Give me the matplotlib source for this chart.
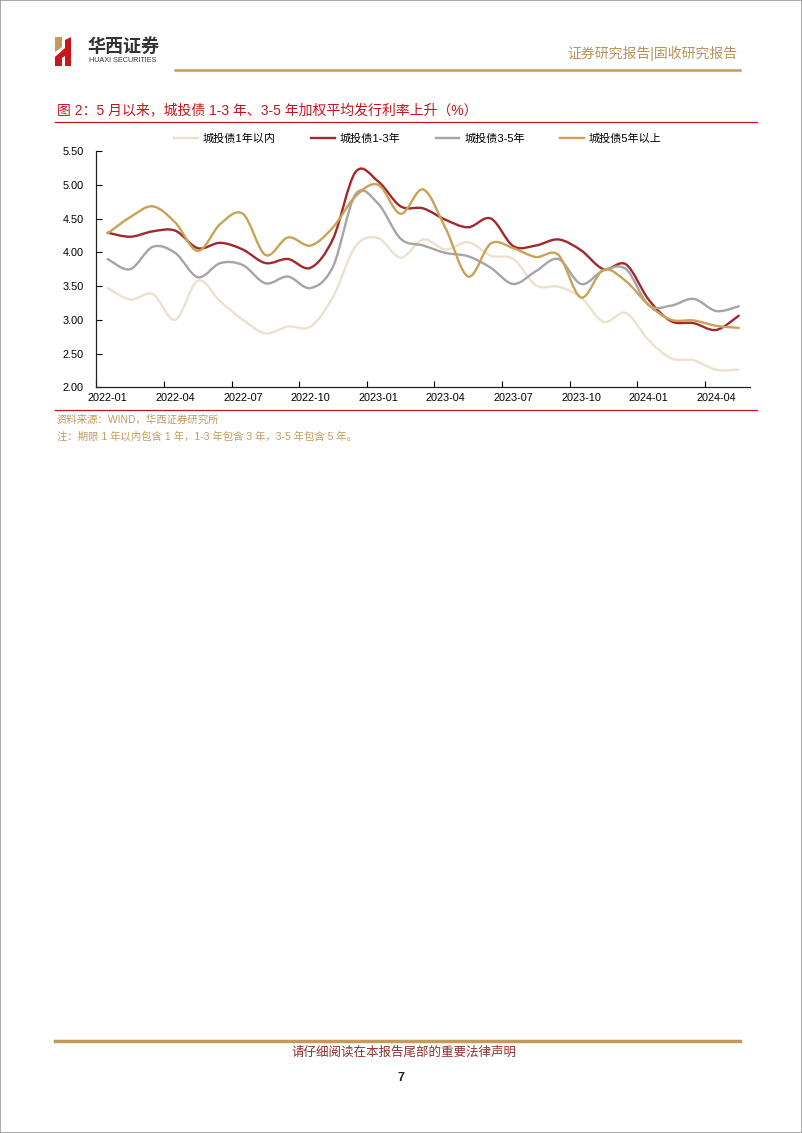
import matplotlib
matplotlib.use("Agg")
import matplotlib.pyplot as plt
from matplotlib.path import Path
from matplotlib.patches import PathPatch, Polygon, Rectangle
from matplotlib.lines import Line2D
import numpy as np

plt.rcParams['font.family'] = ['Liberation Sans', 'Noto Sans CJK SC']

# data (monthly, 2022-01 .. 2024-05)
months = ['2022-01', '2022-02', '2022-03', '2022-04', '2022-05', '2022-06',
          '2022-07', '2022-08', '2022-09', '2022-10', '2022-11', '2022-12',
          '2023-01', '2023-02', '2023-03', '2023-04', '2023-05', '2023-06',
          '2023-07', '2023-08', '2023-09', '2023-10', '2023-11', '2023-12',
          '2024-01', '2024-02', '2024-03', '2024-04', '2024-05']
rate_1y = [3.47, 3.30, 3.38, 3.00, 3.58, 3.27, 3.00, 2.80, 2.90, 2.90, 3.34, 4.09,
           4.21, 3.92, 4.19, 4.04, 4.15, 3.95, 3.90, 3.51, 3.49, 3.33, 2.97, 3.10,
           2.70, 2.43, 2.40, 2.26, 2.26]
rate_1_3y = [4.29, 4.23, 4.31, 4.32, 4.06, 4.14, 4.04, 3.84, 3.90, 3.77, 4.20, 5.19,
             5.05, 4.68, 4.65, 4.48, 4.37, 4.50, 4.09, 4.10, 4.19, 4.03, 3.75, 3.82,
             3.30, 2.98, 2.95, 2.85, 3.06]
rate_3_5y = [3.90, 3.75, 4.08, 3.99, 3.63, 3.84, 3.81, 3.54, 3.64, 3.47, 3.79, 4.86,
             4.72, 4.20, 4.10, 3.99, 3.94, 3.77, 3.53, 3.72, 3.90, 3.53, 3.73, 3.75,
             3.22, 3.21, 3.31, 3.13, 3.20]
rate_5y = [4.28, 4.52, 4.68, 4.44, 4.02, 4.42, 4.57, 3.96, 4.22, 4.10, 4.37, 4.83,
           5.00, 4.57, 4.93, 4.35, 3.64, 4.13, 4.06, 3.93, 3.96, 3.33, 3.74, 3.57,
           3.22, 3.00, 2.99, 2.91, 2.88]
series_names = ['城投债1年以内', '城投债1-3年', '城投债3-5年', '城投债5年以上']
series_colors = ['#EDE1CC', '#A2282B', '#A5A5A5', '#C9A258']
yticks = [2.00, 2.50, 3.00, 3.50, 4.00, 4.50, 5.00, 5.50]

W, H = 802, 1133


def fx(x):
    return x / W


def fy(y):
    return 1 - y / H


def smooth_path(vals):
    # smoothed line through the points (cubic bezier, catmull-rom style)
    pts = np.column_stack([np.arange(len(vals)), vals])
    verts = [pts[0]]
    codes = [Path.MOVETO]
    n = len(pts)
    for i in range(n - 1):
        p0 = pts[max(i - 1, 0)]
        p1 = pts[i]
        p2 = pts[i + 1]
        p3 = pts[min(i + 2, n - 1)]
        verts += [p1 + (p2 - p0) / 6, p2 - (p3 - p1) / 6, p2]
        codes += [Path.CURVE4] * 3
    return Path(verts, codes)


fig = plt.figure(figsize=(W / 100, H / 100), dpi=100)

# page border
fig.add_artist(Rectangle((0, 0), 1, 1, transform=fig.transFigure, fill=False,
                         edgecolor='#9a9a9a', linewidth=1.2))

# header: logo
logo_red = '#C8161D'
logo_gold = '#C49A57'
fig.add_artist(Polygon([(fx(55), fy(37)), (fx(62), fy(37)), (fx(62), fy(47)), (fx(55), fy(52))],
                       closed=True, transform=fig.transFigure, color=logo_gold, lw=0))
fig.add_artist(Polygon([(fx(55), fy(57)), (fx(65), fy(48)), (fx(65), fy(56)), (fx(62), fy(58)),
                        (fx(62), fy(66)), (fx(55), fy(66))],
                       closed=True, transform=fig.transFigure, color=logo_red, lw=0))
fig.add_artist(Polygon([(fx(65), fy(40)), (fx(71), fy(37)), (fx(71), fy(66)), (fx(65), fy(66))],
                       closed=True, transform=fig.transFigure, color=logo_red, lw=0))
fig.text(fx(88), fy(46), '华西证券', fontsize=13, fontweight='bold', color='#333333',
         family=['Noto Sans CJK SC'], va='center', ha='left')
fig.text(fx(89), fy(61), 'HUAXI SECURITIES', fontsize=5.2, color='#333333', va='center', ha='left')
fig.text(fx(737), fy(53), '证券研究报告|固收研究报告', fontsize=10, color='#B8925A',
         va='center', ha='right')
fig.add_artist(Line2D([fx(175), fx(740)], [fy(70), fy(70)], transform=fig.transFigure,
                      color='#C49A57', linewidth=1.8))

# title
title_red = '#C0161E'
fig.text(fx(57), fy(110), '图 2：5 月以来，城投债 1-3 年、3-5 年加权平均发行利率上升（%）',
         fontsize=10, color=title_red, va='center', ha='left')
fig.add_artist(Line2D([fx(55), fx(757)], [fy(122), fy(122)], transform=fig.transFigure,
                      color=title_red, linewidth=0.9))

# chart
ax = fig.add_axes([fx(96.4), fy(387.3), (750 - 96.4) / W, (387.3 - 151) / H])
x = np.arange(len(months))
for vals, col in zip([rate_1y, rate_1_3y, rate_3_5y, rate_5y], series_colors):
    ax.add_patch(PathPatch(smooth_path(vals), fill=False, edgecolor=col, linewidth=1.7,
                           capstyle='round', joinstyle='round'))

ax.set_xlim(-0.5, len(months) - 0.5)
ax.set_ylim(2.0, 5.5)
ax.set_yticks(yticks)
ax.set_yticklabels([f'{v:.2f}' for v in yticks], fontsize=7.8)
ax.set_xticks(x[::3] - 0.5)
ax.set_xticklabels([])
ax.set_xticks(x[::3], minor=True)
ax.set_xticklabels(months[::3], minor=True, fontsize=7.8)
ax.tick_params(axis='x', which='major', direction='in', length=4, width=0.8)
ax.tick_params(axis='x', which='minor', length=0, pad=4)
ax.tick_params(axis='y', direction='in', length=4, width=0.8, pad=9)
for side in ['top', 'right']:
    ax.spines[side].set_visible(False)
for side in ['left', 'bottom']:
    ax.spines[side].set_linewidth(0.9)
    ax.spines[side].set_color('#222222')

handles = [Line2D([], [], color=c, linewidth=1.7) for c in series_colors]
ax.legend(handles, series_names, ncol=4, frameon=False, fontsize=8,
          loc='lower center', bbox_to_anchor=(0.492, 1.0), handlelength=2.1,
          columnspacing=3.2, handletextpad=0.45, borderaxespad=0.2)

# bottom rule and notes
fig.add_artist(Line2D([fx(55), fx(757)], [fy(410), fy(410)], transform=fig.transFigure,
                      color=title_red, linewidth=0.9))
note_color = '#C29B5E'
fig.text(fx(57), fy(420), '资料来源：WIND，华西证券研究所', fontsize=7.5, color=note_color,
         va='center', ha='left')
fig.text(fx(57), fy(437), '注：期限 1 年以内包含 1 年，1-3 年包含 3 年，3-5 年包含 5 年。',
         fontsize=7.5, color=note_color, va='center', ha='left')

# footer
fig.add_artist(Line2D([fx(55), fx(740)], [fy(1041), fy(1041)], transform=fig.transFigure,
                      color='#C49A57', linewidth=2.5))
fig.text(fx(404), fy(1053), '请仔细阅读在本报告尾部的重要法律声明', fontsize=9,
         color='#8E2E2E', va='center', ha='center')
fig.text(fx(401), fy(1078), '7', fontsize=9, fontweight='bold', color='#222222',
         va='center', ha='center')

fig.savefig('out.png', dpi=100)
